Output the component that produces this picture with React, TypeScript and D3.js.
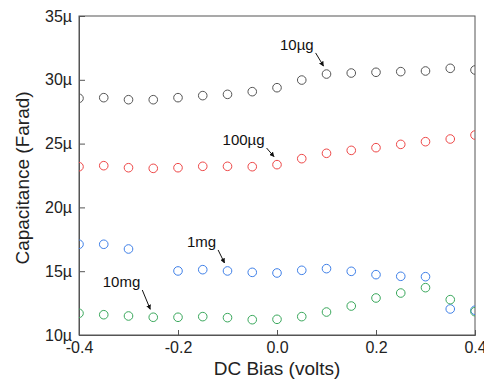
import React, { useRef, useEffect } from 'react';
import * as d3 from 'd3';

// DC bias values (volts)
const bias = [-0.4, -0.35, -0.3, -0.25, -0.2, -0.15, -0.1, -0.05, 0, 0.05, 0.1, 0.15, 0.2, 0.25, 0.3, 0.35, 0.4];

// capacitance in µF per series
const cap10ug = [28.55, 28.6, 28.44, 28.44, 28.6, 28.76, 28.86, 29.07, 29.38, 29.98, 30.45, 30.53, 30.59, 30.64, 30.69, 30.9, 30.77];
const cap100ug = [23.19, 23.27, 23.11, 23.06, 23.11, 23.22, 23.22, 23.19, 23.35, 23.82, 24.24, 24.47, 24.68, 24.94, 25.15, 25.36, 25.67];
const cap1mg = [17.11, 17.11, 16.74, null, 15.02, 15.12, 15.02, 14.91, 14.86, 15.07, 15.2, 14.99, 14.73, 14.6, 14.57, 12.04, 11.94];
const cap10mg = [11.7, 11.59, 11.49, 11.39, 11.39, 11.44, 11.36, 11.2, 11.23, 11.44, 11.8, 12.27, 12.9, 13.29, 13.71, 12.77, 11.83];

const xTicks = [-0.4, -0.2, 0, 0.2, 0.4];
const yTicks = [10, 15, 20, 25, 30, 35];

const series = [
  { name: '10µg', values: cap10ug, color: '#555555' },
  { name: '100µg', values: cap100ug, color: '#ee4848' },
  { name: '1mg', values: cap1mg, color: '#3f80e8' },
  { name: '10mg', values: cap10mg, color: '#3aa85c' },
];

// annotation labels: text position (bias, µF) and the point the arrow points at
const notes = [
  { text: '10µg', lx: 0.006, ly: 32.34, tx: 0.1, ty: 30.45 },
  { text: '100µg', lx: -0.11, ly: 24.89, tx: 0.0, ty: 23.35 },
  { text: '1mg', lx: -0.182, ly: 16.9, tx: -0.1, ty: 15.02 },
  { text: '10mg', lx: -0.352, ly: 13.76, tx: -0.25, ty: 11.39 },
];

const font = 'Liberation Sans, Arial, sans-serif';

export default function App() {
  const svgRef = useRef<SVGSVGElement>(null);

  useEffect(() => {
    const svg = d3.select(svgRef.current);
    svg.selectAll('*').remove();

    const w = 492;
    const h = 391;
    const margin = { top: 16, right: 17, bottom: 56, left: 79 };
    const innerWidth = w - margin.left - margin.right;
    const innerHeight = h - margin.top - margin.bottom;

    const xScale = d3.scaleLinear().domain([-0.4, 0.4]).range([0, innerWidth]);
    const yScale = d3.scaleLinear().domain([10, 35]).range([innerHeight, 0]);

    svg.append('defs').append('marker')
      .attr('id', 'arrowhead')
      .attr('viewBox', '0 0 10 10')
      .attr('refX', 9).attr('refY', 5)
      .attr('markerWidth', 5).attr('markerHeight', 5)
      .attr('markerUnits', 'userSpaceOnUse')
      .attr('orient', 'auto')
      .append('path').attr('d', 'M0,0 L10,5 L0,10 z').attr('fill', '#111');

    const g = svg.append('g').attr('transform', `translate(${margin.left}, ${margin.top})`);

    g.append('clipPath').attr('id', 'plotclip')
      .append('rect').attr('width', innerWidth).attr('height', innerHeight);

    // frame
    g.append('rect')
      .attr('width', innerWidth)
      .attr('height', innerHeight)
      .attr('fill', 'none')
      .attr('stroke', '#555')
      .attr('stroke-width', 1);

    const xAxis = d3.axisBottom(xScale).tickValues(xTicks).tickSize(-5).tickPadding(7)
      .tickFormat(d => d3.format('.1f')(d as number).replace('−', '-'));
    const yAxis = d3.axisLeft(yScale).tickValues(yTicks).tickSize(-6).tickPadding(7)
      .tickFormat(d => `${d}µ`);

    const xAxisGroup = g.append('g').attr('transform', `translate(0, ${innerHeight})`).call(xAxis);
    const yAxisGroup = g.append('g').call(yAxis);

    [xAxisGroup, yAxisGroup].forEach(ax => {
      ax.select('.domain').attr('stroke', '#555');
      ax.selectAll('line').attr('stroke', '#555');
      ax.selectAll('text')
        .attr('font-family', font)
        .attr('font-size', '16px')
        .attr('fill', '#222');
    });

    // points
    const pts = g.append('g').attr('clip-path', 'url(#plotclip)');
    series.forEach(s => {
      pts.selectAll(null)
        .data(s.values.map((v, i) => ({ x: bias[i], y: v })).filter(d => d.y != null))
        .enter()
        .append('circle')
        .attr('cx', d => xScale(d.x))
        .attr('cy', d => yScale(d.y as number))
        .attr('r', 4.3)
        .attr('fill', 'none')
        .attr('stroke', s.color)
        .attr('stroke-width', 1);
    });

    // annotations with arrows
    notes.forEach(n => {
      const lx = xScale(n.lx);
      const ly = yScale(n.ly);
      const label = g.append('text')
        .attr('x', lx)
        .attr('y', ly)
        .attr('font-family', font)
        .attr('font-size', '15px')
        .attr('fill', '#111')
        .text(n.text);
      const tw = (label.node() as SVGTextElement).getComputedTextLength();
      g.append('line')
        .attr('x1', lx + tw + 2)
        .attr('y1', ly + 3)
        .attr('x2', xScale(n.tx) - 3)
        .attr('y2', yScale(n.ty) - 8)
        .attr('stroke', '#111')
        .attr('stroke-width', 1)
        .attr('marker-end', 'url(#arrowhead)');
    });

    // axis titles
    svg.append('text')
      .attr('x', margin.left + innerWidth / 2)
      .attr('y', 375)
      .attr('text-anchor', 'middle')
      .attr('font-family', font)
      .attr('font-size', '19px')
      .attr('fill', '#222')
      .text('DC Bias (volts)');

    svg.append('text')
      .attr('transform', `translate(29, 178) rotate(-90)`)
      .attr('text-anchor', 'middle')
      .attr('font-family', font)
      .attr('font-size', '19px')
      .attr('fill', '#222')
      .text('Capacitance (Farad)');
  }, []);

  return (
    <div style={{ margin: -8 }}>
      <svg ref={svgRef} width={492} height={391} style={{ display: 'block', background: '#fff' }}></svg>
    </div>
  );
}
